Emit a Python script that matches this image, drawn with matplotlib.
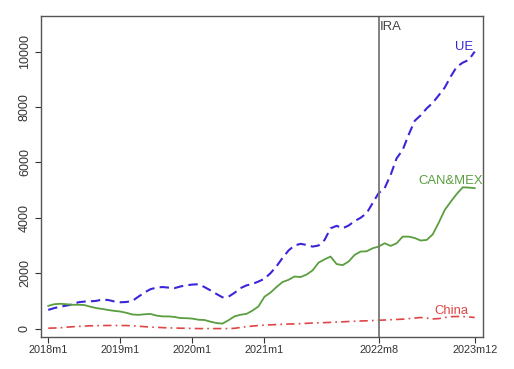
import matplotlib

matplotlib.use("Agg")

import matplotlib.pyplot as plt  # noqa: E402
import numpy as np  # noqa: E402

# Séries mensuelles 2018m1 .. 2023m12 (72 mois)
months = np.arange(72)

ue = [
    675, 740, 790, 830, 870, 950, 975, 985, 1000, 1050, 1030, 980,
    950, 960, 1000, 1150, 1300, 1420, 1480, 1500, 1480, 1460, 1520, 1560,
    1590, 1600, 1500, 1380, 1250, 1130, 1150, 1290, 1460, 1560, 1610, 1700,
    1800, 2000, 2250, 2550, 2820, 3000, 3060, 3020, 2960, 3000, 3200, 3620,
    3710, 3620, 3720, 3880, 4000, 4165, 4530, 4890, 5070, 5550, 6150, 6450,
    7000, 7500, 7700, 7950, 8150, 8420, 8700, 9100, 9450, 9600, 9700, 10000,
]
can_mex = [
    820, 880, 895, 880, 860, 860, 850, 790, 740, 710, 670, 640,
    615, 570, 510, 495, 515, 530, 470, 440, 440, 420, 380, 375,
    360, 320, 310, 250, 200, 180, 300, 440, 500, 530, 650, 800,
    1150, 1300, 1500, 1680, 1760, 1880, 1860, 1950, 2100, 2380, 2500, 2600,
    2330, 2290, 2420, 2660, 2780, 2790, 2900, 2960, 3080, 2985, 3080, 3320,
    3320, 3270, 3180, 3200, 3400, 3820, 4280, 4580, 4860, 5100, 5090, 5070,
]
china = [
    15, 20, 30, 50, 65, 80, 90, 100, 105, 110, 112, 112,
    112, 110, 100, 85, 70, 55, 45, 35, 25, 20, 15, 10,
    5, 0, 0, 0, 0, 0, 0, 10, 40, 70, 90, 110,
    125, 135, 145, 155, 165, 170, 180, 190, 200, 210, 215, 225,
    235, 245, 255, 265, 275, 280, 290, 300, 310, 320, 330, 340,
    360, 380, 400, 380, 350, 360, 400, 430, 435, 435, 420, 400,
]

tick_pos = [0, 12, 24, 36, 55, 71]
tick_labels = ["2018m1", "2019m1", "2020m1", "2021m1", "2022m8", "2023m12"]
y_ticks = [0, 2000, 4000, 6000, 8000, 10000]
ira_month = 55

BLUE = "#3a26d8"
GREEN = "#5a9e40"
RED = "#e04545"
FRAME = "#555555"

plt.rcParams["font.family"] = ["Liberation Sans", "DejaVu Sans"]

fig = plt.figure(figsize=(5.14, 3.69), dpi=100)
ax = fig.add_axes([0.079, 0.087, 0.861, 0.87])

ax.plot(months, ue, color=BLUE, lw=1.5, dashes=(4.5, 2.5))
ax.plot(months, can_mex, color=GREEN, lw=1.3)
ax.plot(months, china, color=RED, lw=1.2, dashes=(5, 2.5, 1, 2.5))
ax.axvline(ira_month, color="#777777", lw=1.3)

# étiquettes des séries, placées à la main comme dans l'original
ax.text(69.2, 9950, "UE", color=BLUE, fontsize=9.4, ha="center", va="bottom")
ax.text(67.0, 5100, "CAN&MEX", color=GREEN, fontsize=9.4, ha="center", va="bottom")
ax.text(67.1, 420, "China", color=RED, fontsize=9.4, ha="center", va="bottom")
ax.text(ira_month + 0.2, 10900, "IRA", color="#444444", fontsize=9.4, ha="left", va="center")

ax.set_xlim(-1.27, 72.4)
ax.set_ylim(-300, 11290)
ax.set_xticks(tick_pos)
ax.set_xticklabels(tick_labels)
ax.set_yticks(y_ticks)
ax.set_yticklabels([str(v) for v in y_ticks], rotation=90, va="center")
ax.tick_params(axis="both", colors="#333333", length=4, width=0.8)
ax.tick_params(axis="x", labelsize=7.8, pad=2)
ax.tick_params(axis="y", labelsize=9, pad=3)
for sp in ax.spines.values():
    sp.set_color(FRAME)
    sp.set_linewidth(1.0)

fig.savefig("out.png", dpi=100)
plt.close(fig)
